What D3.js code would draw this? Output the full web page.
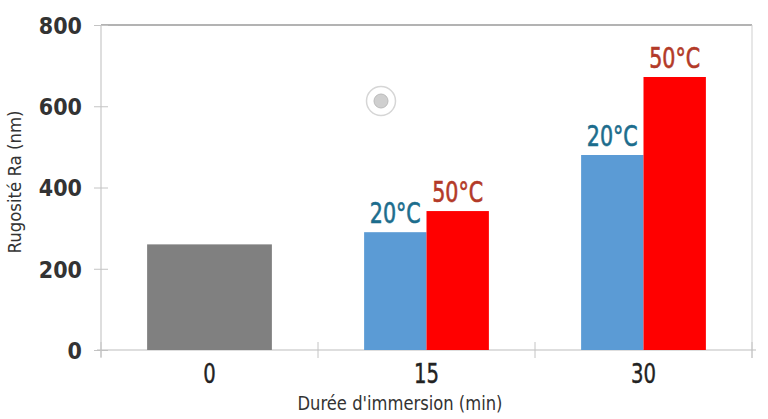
<!DOCTYPE html>
<html><head><meta charset="utf-8">
<script src="https://cdn.jsdelivr.net/npm/d3@7"></script>
<style>body{margin:0;background:#fff}svg{display:block}</style>
</head><body>
<script>
const categories = ["0", "15", "30"];
const seriesNames = ["ref", "20°C", "50°C"];
const refValues = [260, null, null];
const values20 = [null, 290, 480];
const values50 = [null, 342, 672];
const yTicks = [0, 200, 400, 600, 800];
const yTitle = "Rugosité Ra (nm)";
const xTitle = "Durée d'immersion (min)";

const W = 768, H = 419;
const m = {l: 101, r: 16, t: 25, b: 69};
const svg = d3.select("body").append("svg").attr("width", W).attr("height", H);

const x = d3.scaleBand().domain(categories).range([m.l, W - m.r]).padding(0);
const y = d3.scaleLinear().domain([0, 800]).range([H - m.b, m.t]);
const groupFrac = 0.575;

const COND = "'DejaVu Sans Condensed','DejaVu Sans',sans-serif";

// frame
svg.append("line").attr("x1", x.range()[0]).attr("x2", x.range()[1]).attr("y1", y(800)).attr("y2", y(800))
  .attr("stroke", "#9a9a9a").attr("stroke-width", 1.5);
svg.append("line").attr("x1", x.range()[1]).attr("x2", x.range()[1]).attr("y1", y(800)).attr("y2", y(0) + 8)
  .attr("stroke", "#cfcfcf").attr("stroke-width", 1);

// y axis
const yAxis = svg.append("g").attr("transform", `translate(${m.l},0)`)
  .call(d3.axisLeft(y).tickValues(yTicks).tickSize(7).tickPadding(12));
yAxis.select(".domain").attr("stroke", "#bdbdbd").attr("d", `M0,${y(800)}V${y(0) + 7}`);
yAxis.selectAll(".tick line").attr("stroke", "#c4c4c4").attr("x1", 7);
yAxis.selectAll(".tick text").attr("font-family", COND).attr("font-weight", "bold")
  .attr("font-size", 23).attr("fill", "#333").attr("dy", "0.36em");

// x axis
const bounds = categories.map(c => x(c)).concat([x.range()[1]]);
const xAxis = svg.append("g").attr("transform", `translate(0,${y(0)})`);
xAxis.append("line").attr("x1", x.range()[0] - 4).attr("x2", x.range()[1] + 4).attr("stroke", "#bdbdbd");
xAxis.selectAll(".bt").data(bounds).join("line").attr("class", "bt")
  .attr("x1", d => d).attr("x2", d => d).attr("y1", -8).attr("y2", 8).attr("stroke", "#c4c4c4");
xAxis.selectAll(".cl").data(categories).join("text").attr("class", "cl")
  .attr("x", d => x(d) + x.bandwidth() / 2).attr("y", 33)
  .attr("text-anchor", "middle").attr("font-family", COND).attr("font-size", 26)
  .attr("textLength", d => d.length * 12.5).attr("lengthAdjust", "spacingAndGlyphs")
  .attr("fill", "#222").attr("stroke", "#222").attr("stroke-width", 0.4).text(d => d);

// bars
const rows = [];
categories.forEach((c, i) => {
  const vals = [refValues[i], values20[i], values50[i]];
  const present = seriesNames.map((s, k) => ({s, v: vals[k]})).filter(d => d.v != null);
  const gw = x.bandwidth() * groupFrac;
  const bw = gw / present.length;
  const x0 = x(c) + (x.bandwidth() - gw) / 2;
  present.forEach((d, k) => rows.push({cat: c, s: d.s, v: d.v, x: x0 + k * bw, w: bw}));
});
const color = {"ref": "#808080", "20°C": "#5b9bd5", "50°C": "#ff0000"};
const lblColor = {"20°C": "#1c6d8d", "50°C": "#b33a28"};
svg.append("g").selectAll("rect").data(rows).join("rect")
  .attr("x", d => d.x).attr("width", d => d.w).attr("y", d => y(d.v)).attr("height", d => y(0) - y(d.v))
  .attr("fill", d => color[d.s]);
svg.append("g").selectAll("text").data(rows.filter(d => d.s !== "ref")).join("text")
  .attr("x", d => d.x + d.w / 2).attr("y", d => y(d.v) - 9).attr("text-anchor", "middle")
  .attr("font-family", COND).attr("font-size", 29)
  .attr("textLength", 51).attr("lengthAdjust", "spacingAndGlyphs")
  .attr("fill", d => lblColor[d.s]).attr("stroke", d => lblColor[d.s]).attr("stroke-width", 0.6)
  .text(d => d.s);

// axis titles
svg.append("text").attr("x", 400).attr("y", H - 9).attr("text-anchor", "middle")
  .attr("font-family", COND).attr("font-size", 20)
  .attr("textLength", 205).attr("lengthAdjust", "spacingAndGlyphs")
  .attr("fill", "#333").text(xTitle);
svg.append("text").attr("transform", `translate(21,182) rotate(-90)`).attr("text-anchor", "middle")
  .attr("font-family", COND).attr("font-size", 18)
  .attr("textLength", 143).attr("lengthAdjust", "spacingAndGlyphs")
  .attr("fill", "#333").text(yTitle);

// decorative marker
const deco = svg.append("g").attr("transform", "translate(381,101)");
deco.append("circle").attr("r", 14.5).attr("fill", "none").attr("stroke", "#d6d6d6").attr("stroke-width", 1.5);
deco.append("circle").attr("r", 7).attr("fill", "#cfcfcf").attr("stroke", "#bbb").attr("stroke-width", 1);
</script>
</body></html>
